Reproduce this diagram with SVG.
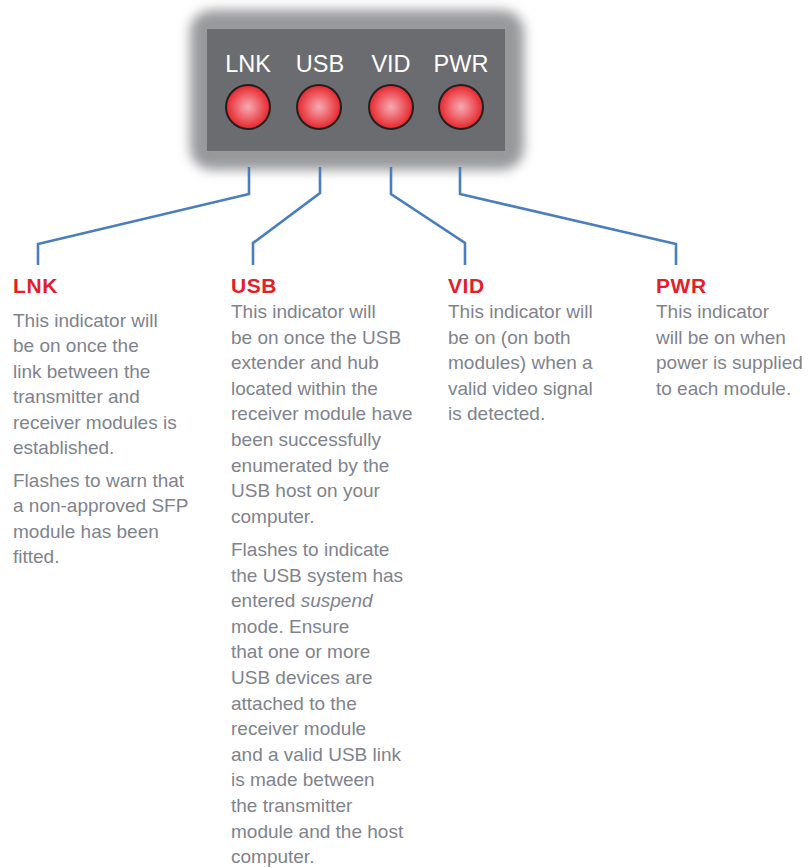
<svg xmlns="http://www.w3.org/2000/svg" width="810" height="868" viewBox="0 0 810 868">
<style>
.lbl{font-family:"Liberation Sans",Arial,sans-serif;font-size:23.5px;fill:#ffffff;text-anchor:middle}
.hd{font-family:"Liberation Sans",Arial,sans-serif;font-size:21px;font-weight:bold;fill:#e3202a;letter-spacing:0.6px}
.bd{font-family:"Liberation Sans",Arial,sans-serif;font-size:19px;fill:#80838c}
.led{fill:url(#ledg);stroke:#231f20;stroke-width:2}
.con{fill:none;stroke:#4a7ebd;stroke-width:2.6;stroke-linejoin:miter}
</style>
<defs>
<radialGradient id="ledg" cx="0.5" cy="0.5" r="0.5">
<stop offset="0" stop-color="#f6a9b4"/>
<stop offset="0.35" stop-color="#f27c84"/>
<stop offset="1" stop-color="#e6252b"/>
</radialGradient>
<filter id="glow" x="-20%" y="-30%" width="140%" height="160%">
<feGaussianBlur stdDeviation="6"/>
</filter>
</defs>
<rect width="810" height="868" fill="#ffffff"/>
<g id="panel">
<rect x="190" y="10" width="334" height="160" rx="22" fill="#98999b" filter="url(#glow)"/>
<rect x="207" y="29" width="298" height="122" fill="#6b6c6f"/>
<text class="lbl" x="248" y="72">LNK</text>
<text class="lbl" x="320" y="72">USB</text>
<text class="lbl" x="391" y="72">VID</text>
<text class="lbl" x="461" y="72">PWR</text>
<circle class="led" cx="248" cy="107" r="22"/>
<circle class="led" cx="319" cy="107" r="22"/>
<circle class="led" cx="391" cy="107" r="22"/>
<circle class="led" cx="461" cy="107" r="22"/>
</g>
<g id="connectors">
<polyline class="con" points="249,167 249,194 38,244 38,265"/>
<polyline class="con" points="320,167 320,193 253,243 253,265"/>
<polyline class="con" points="391,167 391,194 465,243 465,265"/>
<polyline class="con" points="460,167 460,194 676,244 676,265"/>
</g>
<g id="lnk">
<text class="hd" x="13" y="293">LNK</text>
<text class="bd">
<tspan x="13" y="326.5">This indicator will</tspan>
<tspan x="13" y="352">be on once the</tspan>
<tspan x="13" y="377.6">link between the</tspan>
<tspan x="13" y="403.2">transmitter and</tspan>
<tspan x="13" y="428.8">receiver modules is</tspan>
<tspan x="13" y="454.4">established.</tspan>
<tspan x="13" y="486.5">Flashes to warn that</tspan>
<tspan x="13" y="512.1">a non-approved SFP</tspan>
<tspan x="13" y="537.7">module has been</tspan>
<tspan x="13" y="563.3">fitted.</tspan>
</text>
</g>
<g id="usb">
<text class="hd" x="231" y="293">USB</text>
<text class="bd">
<tspan x="231" y="318">This indicator will</tspan>
<tspan x="231" y="343.6">be on once the USB</tspan>
<tspan x="231" y="369.2">extender and hub</tspan>
<tspan x="231" y="394.8">located within the</tspan>
<tspan x="231" y="420.4">receiver module have</tspan>
<tspan x="231" y="446">been successfully</tspan>
<tspan x="231" y="471.6">enumerated by the</tspan>
<tspan x="231" y="497.2">USB host on your</tspan>
<tspan x="231" y="522.8">computer.</tspan>
<tspan x="231" y="556">Flashes to indicate</tspan>
<tspan x="231" y="581.6">the USB system has</tspan>
<tspan x="231" y="607.2">entered <tspan font-style="italic">suspend</tspan></tspan>
<tspan x="231" y="632.8">mode. Ensure</tspan>
<tspan x="231" y="658.4">that one or more</tspan>
<tspan x="231" y="684">USB devices are</tspan>
<tspan x="231" y="709.6">attached to the</tspan>
<tspan x="231" y="735.2">receiver module</tspan>
<tspan x="231" y="760.8">and a valid USB link</tspan>
<tspan x="231" y="786.4">is made between</tspan>
<tspan x="231" y="812">the transmitter</tspan>
<tspan x="231" y="837.6">module and the host</tspan>
<tspan x="231" y="863.2">computer.</tspan>
</text>
</g>
<g id="vid">
<text class="hd" x="448" y="293">VID</text>
<text class="bd">
<tspan x="448" y="318">This indicator will</tspan>
<tspan x="448" y="343.6">be on (on both</tspan>
<tspan x="448" y="369.2">modules) when a</tspan>
<tspan x="448" y="394.8">valid video signal</tspan>
<tspan x="448" y="420.4">is detected.</tspan>
</text>
</g>
<g id="pwr">
<text class="hd" x="656" y="293">PWR</text>
<text class="bd">
<tspan x="656" y="318">This indicator</tspan>
<tspan x="656" y="343.6">will be on when</tspan>
<tspan x="656" y="369.2">power is supplied</tspan>
<tspan x="656" y="394.8">to each module.</tspan>
</text>
</g>
</svg>
